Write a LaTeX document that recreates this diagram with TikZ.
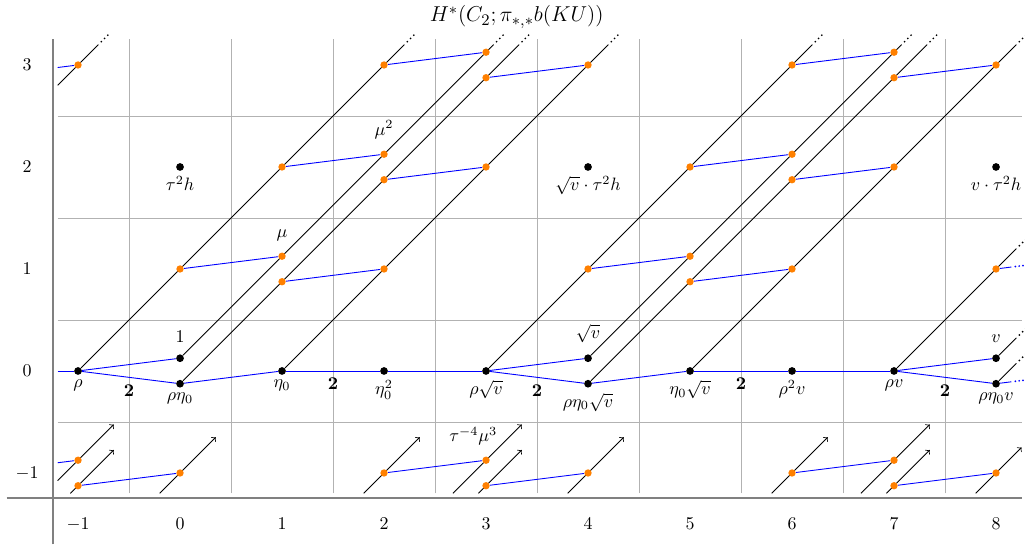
\documentclass[tikz,border=0pt]{standalone}
\usetikzlibrary{positioning}
\pgfdeclarelayer{bg}
\pgfsetlayers{bg,main}
\newcommand\dgdots[1]{\fill (#1) ++(0.028,0.028) circle (0.55pt) ++(0.032,0.032) circle (0.55pt) ++(0.032,0.032) circle (0.55pt);}
\newcommand\bldots[1]{\fill[blue] (#1) ++(0.04,0.005) circle (0.55pt) ++(0.037,0.0046) circle (0.55pt) ++(0.037,0.0046) circle (0.55pt);}
\begin{document}
\begin{tikzpicture}[x=2cm,y=2cm,
  bdot/.style={circle,fill=black,inner sep=0pt,minimum size=4.3pt},
  odot/.style={circle,fill=orange,inner sep=0pt,minimum size=4.1pt},
  bl/.style={blue,line width=0.5pt},
  dg/.style={black,line width=0.45pt},
  gridl/.style={gray!60,line width=0.5pt},
  axl/.style={gray,line width=1.1pt},
  lab/.style={inner sep=2.6pt},
  two/.style={inner sep=0pt,font=\bfseries}
]
\useasboundingbox (-1.765,-1.716) rectangle (8.284,3.637);

% title
\node[font=\fontsize{12.5}{15}\selectfont,inner sep=1pt] (title) at (3.3,3.47) {$H^*(C_2;\pi_{*,*}b(KU))$};

% axis labels
\foreach \x in {-1,0,...,8} \node (xlab\x) at (\x,-1.5) {$\x$};
\foreach \y in {-1,0,...,3} \node (ylab\y) at (-1.5,\y) {$\y$};

% black classes
\node[bdot] (rho)   at (-1,0) {};
\node[bdot] (one)   at (0,0.125) {};
\node[bdot] (rhoeta) at (0,-0.125) {};
\node[bdot] (eta)   at (1,0) {};
\node[bdot] (etasq) at (2,0) {};
\node[bdot] (rsv)   at (3,0) {};
\node[bdot] (sv)    at (4,0.125) {};
\node[bdot] (rhesv) at (4,-0.125) {};
\node[bdot] (esv)   at (5,0) {};
\node[bdot] (rrv)   at (6,0) {};
\node[bdot] (rv)    at (7,0) {};
\node[bdot] (v)     at (8,0.125) {};
\node[bdot] (rhev)  at (8,-0.125) {};
\node[bdot] (tth)   at (0,2) {};
\node[bdot] (svtth) at (4,2) {};
\node[bdot] (vtth)  at (8,2) {};

% labels of black classes
\node[lab,below=0pt of rho]   (rhoL)   {$\rho$};
\node[lab,above=3.5pt of one] (oneL)   {$1$};
\node[lab,below=0pt of rhoeta] (rhoetaL) {$\rho\eta_0$};
\node[lab,below=0pt of eta]   (etaL)   {$\eta_0$};
\node[lab,below=0pt of etasq] (etasqL) {$\eta_0^2$};
\node[lab,below=0pt of rsv]   (rsvL)   {$\rho\sqrt{v}$};
\node[lab,above=3.5pt of sv]  (svL)    {$\sqrt{v}$};
\node[lab,below=0pt of rhesv] (rhesvL) {$\rho\eta_0\sqrt{v}$};
\node[lab,below=0pt of esv]   (esvL)   {$\eta_0\sqrt{v}$};
\node[lab,below=0pt of rrv]   (rrvL)   {$\rho^2v$};
\node[lab,below=0pt of rv]    (rvL)    {$\rho v$};
\node[lab,above=3.5pt of v]   (vL)     {$v$};
\node[lab,below=0pt of rhev]  (rhevL)  {$\rho\eta_0v$};
\node[lab,below=0pt of tth]   (tthL)   {$\tau^2h$};
\node[lab,below=0pt of svtth] (svtthL) {$\sqrt{v}\cdot\tau^2h$};
\node[lab,below=0pt of vtth]  (vtthL)  {$v\cdot\tau^2h$};

% bold 2 labels
\node[two] (twoA) at (-0.5,-0.19) {2};
\node[two] (twoB) at (1.5,-0.12) {2};
\node[two] (twoC) at (3.5,-0.19) {2};
\node[two] (twoD) at (5.5,-0.12) {2};
\node[two] (twoE) at (7.5,-0.19) {2};

% orange classes
\node[odot] (o01)  at (0,1) {};
\node[odot] (o11a) at (1,1.125) {};
\node[odot] (o11b) at (1,0.875) {};
\node[odot] (o21)  at (2,1) {};
\node[odot] (o12)  at (1,2) {};
\node[odot] (o22a) at (2,2.125) {};
\node[odot] (o22b) at (2,1.875) {};
\node[odot] (o32)  at (3,2) {};
\node[odot] (o23)  at (2,3) {};
\node[odot] (o33a) at (3,3.125) {};
\node[odot] (o33b) at (3,2.875) {};
\node[odot] (o43)  at (4,3) {};
\node[odot] (o41)  at (4,1) {};
\node[odot] (o51a) at (5,1.125) {};
\node[odot] (o51b) at (5,0.875) {};
\node[odot] (o61)  at (6,1) {};
\node[odot] (o52)  at (5,2) {};
\node[odot] (o62a) at (6,2.125) {};
\node[odot] (o62b) at (6,1.875) {};
\node[odot] (o72)  at (7,2) {};
\node[odot] (o63)  at (6,3) {};
\node[odot] (o73a) at (7,3.125) {};
\node[odot] (o73b) at (7,2.875) {};
\node[odot] (o83)  at (8,3) {};
\node[odot] (o81)  at (8,1) {};
\node[odot] (om13) at (-1,3) {};
\node[odot] (om1a) at (-1,-0.875) {};
\node[odot] (om1b) at (-1,-1.125) {};
\node[odot] (o0m)  at (0,-1) {};
\node[odot] (o2m)  at (2,-1) {};
\node[odot] (o3ma) at (3,-0.875) {};
\node[odot] (o3mb) at (3,-1.125) {};
\node[odot] (o4m)  at (4,-1) {};
\node[odot] (o6m)  at (6,-1) {};
\node[odot] (o7ma) at (7,-0.875) {};
\node[odot] (o7mb) at (7,-1.125) {};
\node[odot] (o8m)  at (8,-1) {};

\node[lab,above=3.5pt of o11a] (muL)  {$\mu$};
\node[lab,above=3.5pt of o22a] (mu2L) {$\mu^2$};
\node (mu3L) at (2.875,-0.64) {$\tau^{-4}\mu^3$};

% end points
\coordinate (L0)  at (-1.2,0);
\coordinate (L3)  at (-1.2,2.975);
\coordinate (Lm)  at (-1.2,-0.9);
\coordinate (rhoE) at (2.2,3.2);
\coordinate (oneE) at (3.075,3.2);
\coordinate (rhoetaE) at (3.325,3.2);
\coordinate (etaE) at (4.2,3.2);
\coordinate (rsvE) at (6.2,3.2);
\coordinate (svE) at (7.075,3.2);
\coordinate (rhesvE) at (7.325,3.2);
\coordinate (esvE) at (8.2,3.2);
\coordinate (rvE) at (8.2,1.2);
\coordinate (vE) at (8.2,0.325);
\coordinate (rhevE) at (8.2,0.075);
\coordinate (lS) at (-1.2,2.8);
\coordinate (lE) at (-0.8,3.2);
\coordinate (o81E) at (8.15,1.019);
\coordinate (rhevB) at (8.15,-0.106);
% arrows in the bottom row
\coordinate (a1s) at (-1.2,-1.075);  \coordinate (a1e) at (-0.65,-0.525);
\coordinate (a2s) at (-1.075,-1.2);  \coordinate (a2e) at (-0.65,-0.775);
\coordinate (a3s) at (-0.2,-1.2);    \coordinate (a3e) at (0.35,-0.65);
\coordinate (a4s) at (1.8,-1.2);     \coordinate (a4e) at (2.35,-0.65);
\coordinate (a5s) at (2.675,-1.2);   \coordinate (a5e) at (3.35,-0.525);
\coordinate (a6s) at (2.925,-1.2);   \coordinate (a6e) at (3.35,-0.775);
\coordinate (a7s) at (3.8,-1.2);     \coordinate (a7e) at (4.35,-0.65);
\coordinate (a8s) at (5.8,-1.2);     \coordinate (a8e) at (6.35,-0.65);
\coordinate (a9s) at (6.675,-1.2);   \coordinate (a9e) at (7.35,-0.525);
\coordinate (a10s) at (6.925,-1.2);  \coordinate (a10e) at (7.35,-0.775);
\coordinate (a11s) at (7.8,-1.2);    \coordinate (a11e) at (8.25,-0.75);

\begin{pgfonlayer}{bg}
% grid
\foreach \x in {-0.5,0.5,...,7.5} \draw[gridl] (\x,-1.2) -- (\x,3.25);
\foreach \y in {-0.5,0.5,1.5,2.5} \draw[gridl] (-1.2,\y) -- (8.25,\y);
% axes
\draw[axl] (-1.25,-1.7) -- (-1.25,3.25);
\draw[axl] (-1.7,-1.25) -- (8.25,-1.25);

% blue lines, row 0
\draw[bl] (L0) -- (rho);
\draw[bl] (rho) -- (one);
\draw[bl] (rho) -- (rhoeta);
\draw[bl] (rhoeta) -- (eta);
\draw[bl] (eta) -- (etasq);
\draw[bl] (etasq) -- (rsv);
\draw[bl] (rsv) -- (sv);
\draw[bl] (rsv) -- (rhesv);
\draw[bl] (rhesv) -- (esv);
\draw[bl] (esv) -- (rrv);
\draw[bl] (rrv) -- (rv);
\draw[bl] (rv) -- (v);
\draw[bl] (rv) -- (rhev);
\draw[bl] (rhev) -- (rhevB);
\bldots{rhevB}

% blue lines, orange classes
\draw[bl] (o01) -- (o11a);
\draw[bl] (o11b) -- (o21);
\draw[bl] (o12) -- (o22a);
\draw[bl] (o22b) -- (o32);
\draw[bl] (o23) -- (o33a);
\draw[bl] (o33b) -- (o43);
\draw[bl] (o41) -- (o51a);
\draw[bl] (o51b) -- (o61);
\draw[bl] (o52) -- (o62a);
\draw[bl] (o62b) -- (o72);
\draw[bl] (o63) -- (o73a);
\draw[bl] (o73b) -- (o83);
\draw[bl] (o81) -- (o81E);
\bldots{o81E}
\draw[bl] (L3) -- (om13);
\draw[bl] (Lm) -- (om1a);
\draw[bl] (om1b) -- (o0m);
\draw[bl] (o2m) -- (o3ma);
\draw[bl] (o3mb) -- (o4m);
\draw[bl] (o6m) -- (o7ma);
\draw[bl] (o7mb) -- (o8m);

% diagonal towers
\draw[dg] (rho) -- (rhoE);       \dgdots{rhoE}
\draw[dg] (one) -- (oneE);       \dgdots{oneE}
\draw[dg] (rhoeta) -- (rhoetaE); \dgdots{rhoetaE}
\draw[dg] (eta) -- (etaE);       \dgdots{etaE}
\draw[dg] (rsv) -- (rsvE);       \dgdots{rsvE}
\draw[dg] (sv) -- (svE);         \dgdots{svE}
\draw[dg] (rhesv) -- (rhesvE);   \dgdots{rhesvE}
\draw[dg] (esv) -- (esvE);       \dgdots{esvE}
\draw[dg] (rv) -- (rvE);         \dgdots{rvE}
\draw[dg] (v) -- (vE);           \dgdots{vE}
\draw[dg] (rhev) -- (rhevE);     \dgdots{rhevE}
\draw[dg] (lS) -- (lE);          \dgdots{lE}

% bottom row arrows
\foreach \i in {1,...,11} \draw[dg,->] (a\i s) -- (a\i e);
\end{pgfonlayer}
\end{tikzpicture}
\end{document}
